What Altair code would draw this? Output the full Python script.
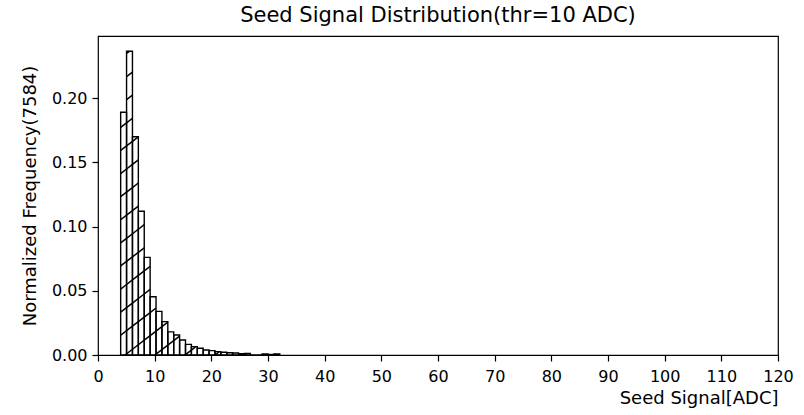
import altair as alt
import pandas as pd

# ---- data ----
bin_left = [4.00, 5.04, 6.08, 7.12, 8.16, 9.20, 10.24, 11.28, 12.32, 13.36,
            14.40, 15.44, 16.48, 17.52, 18.56, 19.60, 20.64, 21.68, 22.72,
            23.76, 24.80, 25.84, 26.88, 27.92, 28.96, 30.00, 31.04]
bin_width = 1.04
freq = [0.189, 0.2366, 0.170, 0.112, 0.076, 0.0454, 0.034, 0.026, 0.018,
        0.0156, 0.0117, 0.0083, 0.0065, 0.0052, 0.0039, 0.0034, 0.0026,
        0.0021, 0.0018, 0.0016, 0.0010, 0.0013, 0.0, 0.0, 0.0008, 0.0004,
        0.0008]
x_ticks = [0, 10, 20, 30, 40, 50, 60, 70, 80, 90, 100, 110, 120]
y_ticks = [0.00, 0.05, 0.10, 0.15, 0.20]

X_MAX = 120
Y_MAX = max(freq) * 1.05

W, H = 680, 319
FONT = "DejaVu Sans"

bars = pd.DataFrame({
    "left": bin_left,
    "right": [l + bin_width for l in bin_left],
    "freq": freq,
})

# ---- hatch '/' pattern, clipped to each bar (pixel space -> data space) ----
sx = W / X_MAX
sy = H / Y_MAX
slope = 0.77       # hatch line slope in pixels
spacing = 30.0     # horizontal spacing in pixels
phase = 57.0
segs = []
for l, r, f in zip(bars["left"], bars["right"], bars["freq"]):
    if f <= 0:
        continue
    xl, xr, top = l * sx, r * sx, f * sy
    for k in range(-40, 40):
        x0 = phase + spacing * k
        a = max(xl, x0)
        b = min(xr, x0 + top / slope)
        if b - a > 0.05:
            segs.append({
                "x": a / sx, "y": slope * (a - x0) / sy,
                "x2": b / sx, "y2": slope * (b - x0) / sy,
            })
hatch = pd.DataFrame(segs)

xscale = alt.Scale(domain=[0, X_MAX], nice=False, zero=False)
yscale = alt.Scale(domain=[0, Y_MAX], nice=False, zero=False)

hatch_layer = alt.Chart(hatch).mark_rule(color="black", strokeWidth=1.5).encode(
    x=alt.X("x:Q", scale=xscale),
    y=alt.Y("y:Q", scale=yscale),
    x2="x2:Q",
    y2="y2:Q",
)

bar_layer = alt.Chart(bars).mark_rect(
    fill="white", fillOpacity=0, stroke="black", strokeWidth=1.4
).encode(
    x=alt.X("left:Q", scale=xscale,
            axis=alt.Axis(values=x_ticks, title="Seed Signal[ADC]",
                          titleAnchor="end", titleAlign="right",
                          labelFlush=False, labelOverlap=False,
                          labelPadding=7, titlePadding=5, format="d")),
    x2="right:Q",
    y=alt.Y("freq:Q", scale=yscale,
            axis=alt.Axis(values=y_ticks, format=".2f",
                          title="Normalized Frequency(7584)",
                          labelFlush=False,
                          labelPadding=5, titlePadding=12)),
    y2=alt.datum(0),
)

chart = alt.layer(hatch_layer, bar_layer).properties(
    width=W,
    height=H,
    background="white",
    title=alt.TitleParams("Seed Signal Distribution(thr=10 ADC)",
                          font=FONT, fontSize=21, fontWeight="normal",
                          color="black", anchor="middle", offset=10),
    autosize=alt.AutoSizeParams(type="none"),
    padding={"left": 98, "top": 36, "right": 26, "bottom": 60},
).configure_view(
    stroke="black", strokeWidth=1.2, fill="white"
).configure_axis(
    domain=False, grid=False,
    tickColor="black", tickSize=6, tickWidth=1.2,
    labelFont=FONT, labelFontSize=16, labelColor="black",
    titleFont=FONT, titleFontSize=18, titleFontWeight="normal",
    titleColor="black",
)

chart.save("out.html", embed_options={"renderer": "svg", "actions": False})
